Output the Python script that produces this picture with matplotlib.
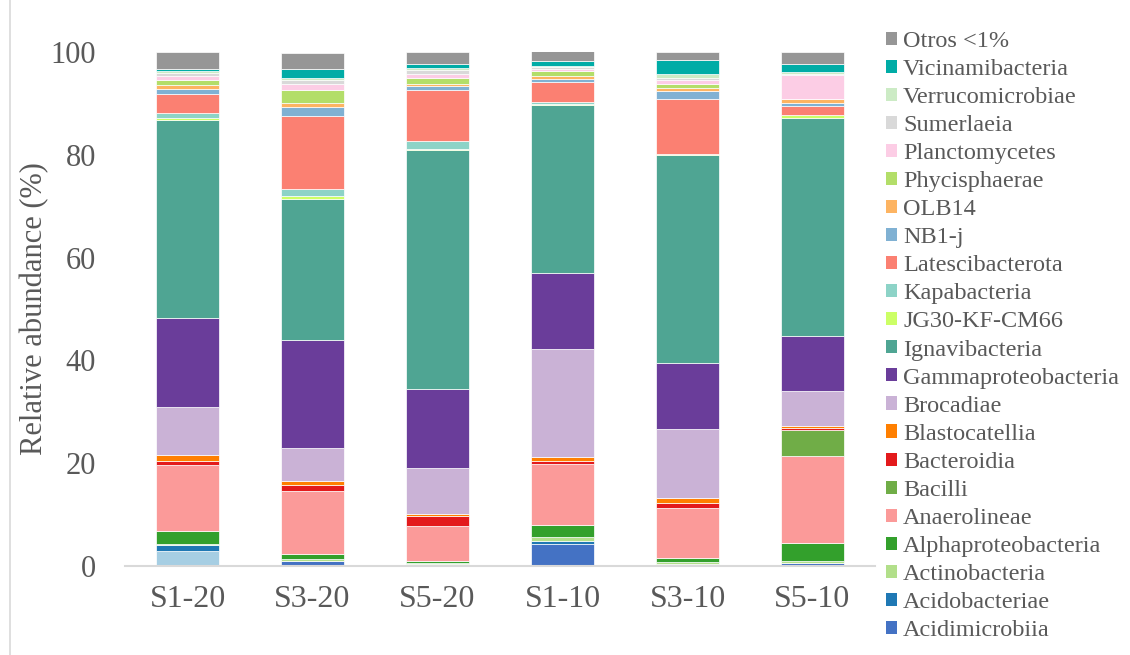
import matplotlib
matplotlib.use("Agg")
import matplotlib.pyplot as plt
from matplotlib.patches import Patch
import numpy as np

samples = ["S1-20", "S3-20", "S5-20", "S1-10", "S3-10", "S5-10"]

# Stacked from the bottom of each bar upward
taxa = [
    "Acidimicrobiia", "Acidobacteriae", "Actinobacteria", "Alphaproteobacteria",
    "Anaerolineae", "Bacilli", "Bacteroidia", "Blastocatellia", "Brocadiae",
    "Gammaproteobacteria", "Ignavibacteria", "JG30-KF-CM66", "Kapabacteria",
    "Latescibacterota", "NB1-j", "OLB14", "Phycisphaerae", "Planctomycetes",
    "Sumerlaeia", "Verrucomicrobiae", "Vicinamibacteria", "Otros <1%",
]

acidimicrobiia = [3.0, 1.0, 0.3, 4.2, 0.45, 0.65]
acidobacteriae = [1.0, 0.0, 0.0, 0.65, 0.0, 0.0]
actinobacteria = [0.3, 0.4, 0.3, 0.8, 0.3, 0.3]
alphaproteobacteria = [2.5, 1.0, 0.4, 2.3, 0.85, 3.6]
anaerolineae = [12.8, 12.2, 6.7, 11.9, 9.7, 16.9]
bacilli = [0.0, 0.0, 0.0, 0.0, 0.0, 5.1]
bacteroidia = [0.9, 1.2, 2.1, 0.5, 1.0, 0.3]
blastocatellia = [1.0, 0.7, 0.4, 0.8, 1.0, 0.4]
brocadiae = [9.4, 6.5, 8.8, 21.1, 13.3, 6.7]
gammaproteobacteria = [17.3, 20.9, 15.5, 14.8, 12.8, 10.7]
ignavibacteria = [38.5, 27.5, 46.4, 32.7, 40.5, 42.6]
jg30 = [0.45, 0.5, 0.3, 0.2, 0.3, 0.5]
kapabacteria = [1.0, 1.4, 1.4, 0.3, 0.0, 0.0]
latescibacterota = [3.6, 14.3, 10.0, 4.0, 10.7, 1.75]
nb1j = [1.0, 1.7, 0.7, 0.45, 1.5, 0.65]
olb14 = [0.8, 0.8, 0.45, 0.65, 0.65, 0.8]
phycisphaerae = [1.0, 2.6, 1.2, 1.0, 0.8, 0.0]
planctomycetes = [0.8, 1.1, 0.85, 0.4, 0.7, 4.5]
sumerlaeia = [0.65, 0.7, 0.65, 0.4, 0.45, 0.35]
verrucomicrobiae = [0.3, 0.45, 0.45, 0.2, 0.65, 0.35]
vicinamibacteria = [0.3, 1.75, 0.85, 0.85, 2.7, 1.55]
otros = [3.4, 3.2, 2.3, 2.1, 1.6, 2.3]

values = [
    acidimicrobiia, acidobacteriae, actinobacteria, alphaproteobacteria,
    anaerolineae, bacilli, bacteroidia, blastocatellia, brocadiae,
    gammaproteobacteria, ignavibacteria, jg30, kapabacteria,
    latescibacterota, nb1j, olb14, phycisphaerae, planctomycetes,
    sumerlaeia, verrucomicrobiae, vicinamibacteria, otros,
]

colors = [
    "#4472c4", "#1f78b4", "#b2df8a", "#33a02c",
    "#fb9a99", "#70ad47", "#e31a1c", "#ff7f00", "#cab2d6",
    "#6a3d9a", "#4fa593", "#ccff66", "#8dd3c7",
    "#fb8072", "#80b1d3", "#fdb462", "#b3de69", "#fccde5",
    "#d9d9d9", "#ccebc5", "#00aca6", "#969696",
]

# single segment drawn in a different fill (taxon index, sample index) -> colour
point_colors = {(0, 0): "#a6cee3"}

text_gray = "#595959"
plt.rcParams["font.family"] = ["Liberation Serif", "DejaVu Serif"]

fig = plt.figure(figsize=(11.30, 6.55), dpi=100)
ax = fig.add_axes([125 / 1130, 89 / 655, 750 / 1130, 514 / 655])

x = np.arange(len(samples))
bottom = np.zeros(len(samples))
for i, (name, vals, col) in enumerate(zip(taxa, values, colors)):
    vals = np.asarray(vals, dtype=float)
    bars = ax.bar(x, vals, width=0.5, bottom=bottom, color=col,
                  edgecolor="#ffffff", linewidth=0.5, label=name)
    for (ti, si), pc in point_colors.items():
        if ti == i:
            bars[si].set_facecolor(pc)
    bottom += vals

ax.set_xlim(-0.5, len(samples) - 0.5)
ax.set_ylim(0, 100)
ax.set_yticks([0, 20, 40, 60, 80, 100])
ax.set_xticks(x)
ax.set_xticklabels(samples)
ax.tick_params(axis="both", length=0, labelcolor=text_gray)
ax.tick_params(axis="x", labelsize=23, pad=14)
ax.tick_params(axis="y", labelsize=22, pad=21)
for side in ("top", "right", "left"):
    ax.spines[side].set_visible(False)
ax.spines["bottom"].set_color("#d9d9d9")
ax.spines["bottom"].set_linewidth(1.5)
ax.set_ylabel("Relative abundance (%)", fontsize=22, color=text_gray)
ax.yaxis.set_label_coords(-0.101, 0.5)

legend_handles = [Patch(facecolor=c) for c in colors[::-1]]
fig.legend(legend_handles, taxa[::-1], loc="upper left",
           bbox_to_anchor=(886 / 1130, 1 - 31 / 655),
           frameon=False, fontsize=17.5, labelcolor=text_gray,
           handlelength=0.45, handleheight=0.45, handletextpad=0.25,
           labelspacing=0.29, borderaxespad=0, borderpad=0)

# chart-area border on the left side
fig.add_artist(plt.Line2D([10 / 1130, 10 / 1130], [0, 1], color="#d9d9d9",
                          linewidth=1.2, transform=fig.transFigure))

fig.savefig("out.png", dpi=100)
